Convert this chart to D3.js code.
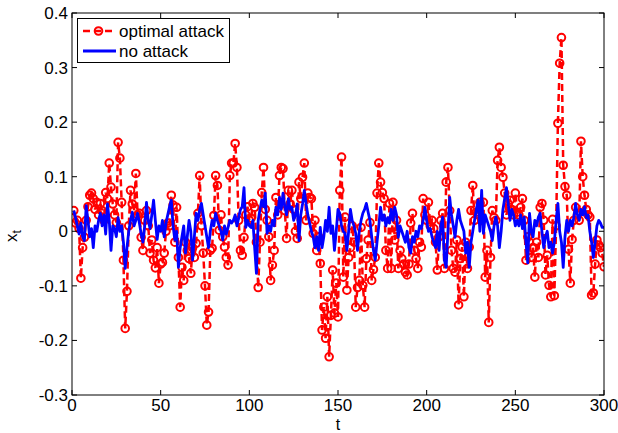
<!DOCTYPE html>
<html><head><meta charset="utf-8">
<script src="https://cdn.jsdelivr.net/npm/d3@7"></script>
<style>body{margin:0;background:#fff}svg{display:block}text{font-family:Arial,"Liberation Sans",Helvetica,sans-serif}</style>
</head><body><svg id="c" width="618" height="433"></svg>
<script>
const xTicks = [0, 50, 100, 150, 200, 250, 300];
const yTicks = [-0.3, -0.2, -0.1, 0, 0.1, 0.2, 0.3, 0.4];
const yTickLabels = ["-0.3", "-0.2", "-0.1", "0", "0.1", "0.2", "0.3", "0.4"];
const seriesNames = ["optimal attack", "no attack"];
const optimalAttack = [
0.038,0.015,0.02,0.005,-0.086,-0.03,-0.011,0.02,0.045,0.066,
0.07,0.06,0.04,0.053,0.03,0.051,0.038,0.02,0.071,0.06,
0.125,0.081,0.05,0.03,0.016,0.163,0.134,0.053,-0.053,-0.178,
-0.11,0.01,0.075,0.05,0.038,0.106,0.03,0.033,-0.011,-0.035,
0.02,0.038,0.01,-0.04,-0.016,-0.053,-0.067,-0.03,-0.095,-0.06,
-0.057,-0.04,0.0,0.015,0.01,0.066,0.048,-0.02,0.044,-0.048,
-0.139,-0.066,-0.09,-0.02,-0.035,-0.05,-0.077,-0.03,-0.048,-0.022,
0.033,0.102,0.01,-0.04,-0.1,-0.172,-0.148,-0.035,-0.031,0.029,
0.102,0.084,0.002,0.03,-0.01,-0.029,-0.048,-0.062,0.102,0.125,
0.125,0.161,0.117,0.02,-0.035,-0.044,-0.011,0.03,0.045,0.02,
0.024,0.051,0.044,-0.02,-0.103,-0.02,0.071,0.117,0.04,0.02,
-0.01,-0.09,-0.062,-0.035,0.062,0.03,0.102,0.117,0.115,0.038,
-0.013,0.075,0.05,0.075,0.04,0.0,-0.013,0.09,0.06,0.099,
0.125,0.02,0.07,0.062,0.06,-0.004,0.02,-0.035,-0.01,-0.059,
-0.181,-0.139,-0.196,-0.12,-0.23,-0.154,-0.071,-0.15,-0.095,-0.157,
0.075,0.136,-0.084,0.026,-0.108,-0.048,-0.03,0.01,-0.02,-0.139,
-0.103,-0.09,0.007,-0.099,-0.139,-0.05,-0.016,0.016,-0.09,-0.07,
-0.048,0.07,0.125,0.09,0.071,0.06,-0.035,-0.068,0.051,-0.068,
0.053,-0.016,0.02,-0.068,-0.035,-0.05,-0.06,-0.075,-0.08,-0.06,
0.015,0.033,-0.035,-0.05,-0.068,-0.02,-0.029,0.06,0.03,0.02,
0.053,0.01,0.02,0.005,-0.02,-0.071,-0.01,0.02,0.033,-0.068,
0.09,0.117,0.038,-0.035,-0.068,-0.075,-0.016,-0.135,-0.05,-0.029,
-0.12,-0.02,-0.068,-0.029,0.038,0.084,0.02,0.035,0.03,0.053,
0.02,0.053,-0.084,-0.035,-0.167,-0.048,0.038,0.025,0.02,0.13,
0.154,0.117,0.099,0.07,0.03,0.05,0.057,0.04,0.03,0.07,
0.035,0.03,0.044,0.06,0.02,-0.053,-0.01,-0.02,-0.048,-0.03,
-0.084,-0.02,-0.048,0.044,0.051,0.02,-0.08,-0.044,-0.099,-0.12,
0.022,-0.118,0.01,0.198,0.308,0.355,0.121,0.082,0.066,-0.033,
-0.095,-0.015,0.02,0.044,0.03,0.02,0.165,0.1,0.066,0.04,
0.03,0.026,-0.117,-0.113,-0.06,-0.016,-0.025,-0.03,-0.04,-0.065
];
const noAttack = [
0.038,0.025,0.01,-0.005,0.015,-0.01,-0.017,0.047,0.02,-0.01,
0.005,-0.03,0.01,0.0,0.02,0.033,0.01,0.03,-0.005,0.05,
0.02,-0.035,0.01,0.005,-0.01,0.025,0.0,0.01,-0.02,-0.068,
-0.03,0.0,0.02,0.035,0.01,0.02,0.033,0.015,-0.005,-0.02,
0.01,0.053,0.02,0.005,0.03,0.057,0.02,-0.015,0.01,0.0,
0.02,-0.01,0.015,0.03,0.045,0.057,0.01,-0.016,0.0,-0.066,
-0.03,-0.01,0.01,-0.04,-0.01,0.02,0.0,-0.053,-0.01,0.033,
0.02,0.04,0.051,0.03,0.01,-0.01,-0.03,0.0,0.02,0.01,
0.033,0.02,0.01,0.0,-0.016,0.01,-0.005,0.007,0.02,0.015,
0.02,0.03,0.01,0.025,0.04,0.045,0.08,0.007,0.02,0.01,
0.007,0.02,-0.03,-0.077,0.02,0.04,0.057,0.045,0.07,-0.004,
0.01,0.0,0.02,0.01,0.044,0.03,0.062,0.04,0.07,0.045,
0.03,0.06,0.04,0.044,0.02,0.03,0.05,-0.017,0.03,0.05,
0.075,0.05,0.03,0.015,0.0,-0.01,-0.03,-0.01,-0.035,0.007,
-0.03,-0.01,0.02,0.0,0.044,-0.004,0.01,-0.035,0.0,0.04,
0.033,0.01,0.0,-0.004,-0.035,0.0,0.04,0.02,0.01,-0.004,
-0.035,0.0,0.02,0.033,0.04,0.051,0.035,0.02,-0.01,-0.035,
-0.053,-0.02,0.01,0.044,0.02,0.03,0.01,0.025,0.015,0.04,
0.02,0.044,0.03,-0.011,0.01,0.0,-0.01,-0.02,0.0,-0.03,
-0.04,-0.01,-0.02,0.0,-0.01,0.01,0.005,0.02,0.044,0.02,
0.0,0.005,-0.01,-0.02,-0.03,0.0,-0.035,0.01,0.026,-0.053,
-0.066,0.0,0.062,0.03,0.01,-0.011,0.02,0.04,0.02,0.01,
0.0,-0.04,-0.02,-0.066,-0.02,0.0,0.02,0.04,0.057,0.0,
0.075,-0.004,0.03,0.02,0.01,0.0,-0.017,0.01,0.026,0.01,
-0.03,0.0,0.04,0.06,0.08,0.05,0.02,0.04,0.03,0.01,
0.02,0.01,0.03,0.005,0.026,-0.02,-0.058,0.033,0.0,-0.01,
0.02,0.01,0.026,0.033,0.0,-0.03,-0.01,0.0,-0.03,-0.02,
-0.04,-0.02,0.02,0.051,0.0,-0.02,-0.066,-0.01,0.02,0.0,
0.02,0.01,0.025,0.051,0.03,0.02,0.04,0.03,0.045,0.025,
0.03,0.0,-0.02,-0.048,-0.02,0.01,0.02,0.015,0.007,0.007
];

const svg = d3.select("#c");
const L = 72, R = 604, T = 13, B = 395;
const x = d3.scaleLinear().domain([0, 300]).range([L, R]);
const y = d3.scaleLinear().domain([-0.3, 0.4]).range([B, T]);
const FS = 17;

svg.append("rect").attr("x",0).attr("y",0).attr("width",618).attr("height",433).attr("fill","#fff");
svg.append("defs").append("clipPath").attr("id","clip").append("rect")
  .attr("x",L).attr("y",T).attr("width",R-L).attr("height",B-T);

const redData = optimalAttack.map((v,i)=>({t:i+1,v}));
const blueData = noAttack.map((v,i)=>({t:i+1,v}));
const line = d3.line().x(d=>x(d.t)).y(d=>y(d.v));

const plot = svg.append("g").attr("clip-path","url(#clip)");
plot.append("path").datum(redData).attr("d",line).attr("fill","none")
  .attr("stroke","#ff0000").attr("stroke-width",2.5).attr("stroke-dasharray","7,4");
plot.selectAll("circle.m").data(redData).join("circle").attr("class","m")
  .attr("cx",d=>x(d.t)).attr("cy",d=>y(d.v)).attr("r",3.8)
  .attr("fill","none").attr("stroke","#ff0000").attr("stroke-width",2);
plot.append("path").datum(blueData).attr("d",line).attr("fill","none")
  .attr("stroke","#0000ff").attr("stroke-width",2.8).attr("stroke-linejoin","round");

// axes box
const ax = svg.append("g");
ax.append("rect").attr("x",L).attr("y",T).attr("width",R-L).attr("height",B-T)
  .attr("fill","none").attr("stroke","#000").attr("stroke-width",1);
xTicks.forEach(t=>{
  ax.append("line").attr("x1",x(t)).attr("x2",x(t)).attr("y1",B).attr("y2",B-5).attr("stroke","#000");
  ax.append("line").attr("x1",x(t)).attr("x2",x(t)).attr("y1",T).attr("y2",T+5).attr("stroke","#000");
  ax.append("text").attr("x",x(t)).attr("y",B+16).attr("text-anchor","middle")
    .attr("font-size",FS).text(String(t));
});
yTicks.forEach((v,i)=>{
  ax.append("line").attr("x1",L).attr("x2",L+5).attr("y1",y(v)).attr("y2",y(v)).attr("stroke","#000");
  ax.append("line").attr("x1",R).attr("x2",R-5).attr("y1",y(v)).attr("y2",y(v)).attr("stroke","#000");
  ax.append("text").attr("x",L-4).attr("y",y(v)+6).attr("text-anchor","end")
    .attr("font-size",FS).text(yTickLabels[i]);
});
svg.append("text").attr("x",(L+R)/2).attr("y",430).attr("text-anchor","middle")
  .attr("font-size",16).text("t");
const yl = svg.append("text").attr("transform","translate(17,236) rotate(-90)")
  .attr("text-anchor","middle").attr("font-size",FS);
yl.append("tspan").text("x");
yl.append("tspan").attr("font-size",12).attr("dy",4).text("t");

// legend
const lg = svg.append("g");
lg.append("rect").attr("x",77.5).attr("y",18.5).attr("width",152).attr("height",44)
  .attr("fill","#fff").attr("stroke","#000").attr("stroke-width",1);
lg.append("line").attr("x1",83).attr("x2",116).attr("y1",31).attr("y2",31)
  .attr("stroke","#ff0000").attr("stroke-width",2.5).attr("stroke-dasharray","7,4");
lg.append("circle").attr("cx",98.5).attr("cy",31).attr("r",3.8).attr("fill","none")
  .attr("stroke","#ff0000").attr("stroke-width",2);
lg.append("line").attr("x1",83).attr("x2",116).attr("y1",51).attr("y2",51)
  .attr("stroke","#0000ff").attr("stroke-width",2.8);
lg.append("text").attr("x",119).attr("y",37).attr("font-size",FS).text(seriesNames[0]);
lg.append("text").attr("x",119).attr("y",57).attr("font-size",FS).text(seriesNames[1]);
</script></body></html>
